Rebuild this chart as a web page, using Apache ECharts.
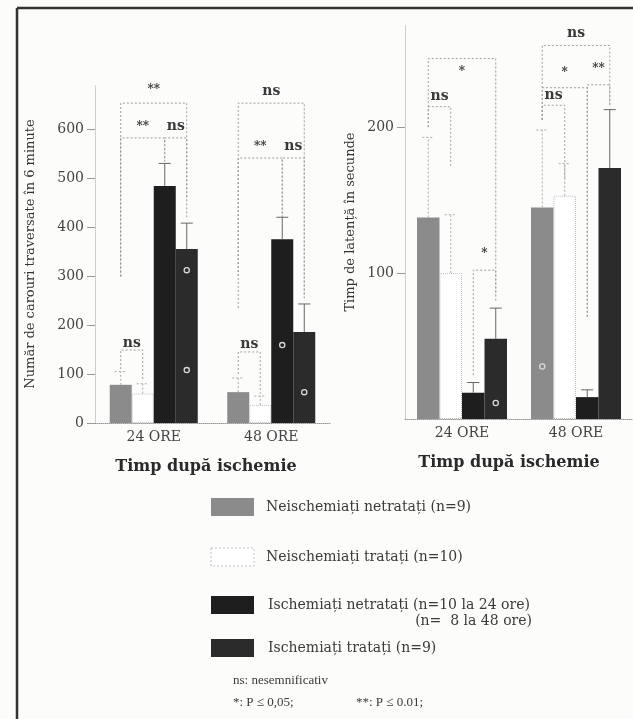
<!DOCTYPE html>
<html><head><meta charset="utf-8">
<script src="https://cdn.jsdelivr.net/npm/echarts@6/dist/echarts.min.js"></script>
<style>html,body{margin:0;padding:0;background:#fcfcfb}#c{width:633px;height:719px}</style>
</head><body><div id="c"></div>
<script>
const categories = ['24 ORE', '48 ORE'];
const groupNames = ['Neischemiați netratați (n=9)', 'Neischemiați tratați (n=10)', 'Ischemiați netratați (n=10 la 24 ore)', 'Ischemiați tratați (n=9)'];
const groupNote = '(n=  8 la 48 ore)';
const xTitle = 'Timp după ischemie';
const leftTitle = 'Număr de carouri traversate în 6 minute';
const rightTitle = 'Timp de latență în secunde';

// Left chart: values and top of error bars
const leftGrey = [78, 63];
const leftWhite = [60, 37];
const leftBlack = [484, 375];
const leftTreated = [355, 186];
const leftGreyErr = [105, 92];
const leftWhiteErr = [80, 55];
const leftBlackErr = [530, 420];
const leftTreatedErr = [408, 243];
const leftTicks = [0, 100, 200, 300, 400, 500, 600];

// Right chart
const rightGrey = [138, 145];
const rightWhite = [100, 153];
const rightBlack = [18, 15];
const rightTreated = [55, 172];
const rightGreyErr = [193, 198];
const rightWhiteErr = [140, 175];
const rightBlackErr = [25, 20];
const rightTreatedErr = [76, 212];
const rightTicks = [100, 200];

// brackets: [category, fromBar, toBar, level, leftLegEnd, rightLegEnd, labelValue, text]
const leftBrackets = [
  [0, 0, 3, 653, 298, 461, 680, '**'],
  [0, 0, 2, 582, 300, 531, 605, '**'],
  [0, 2, 3, 582, 540, 420, 605, 'ns'],
  [0, 0, 1, 149, 110, 85, 163, 'ns'],
  [1, 0, 3, 653, 235, 250, 678, 'ns'],
  [1, 0, 2, 541, 300, 420, 564, '**'],
  [1, 2, 3, 541, 420, 260, 564, 'ns'],
  [1, 0, 1, 145, 100, 60, 160, 'ns']
];
const rightBrackets = [
  [0, 0, 3, 247, 200, 85, 238, '*'],
  [0, 0, 1, 214, 200, 173, 221, 'ns'],
  [0, 2, 3, 102, 30, 80, 113, '*'],
  [1, 0, 3, 256, 205, 215, 264, 'ns'],
  [1, 0, 2, 227, 205, 70, 237, '*'],
  [1, 2, 3, 229, 70, 215, 240, '**'],
  [1, 0, 1, 215, 205, 165, 222, 'ns']
];
// individual markers: [category, bar, value]
const leftDots = [[0, 3, 312], [1, 2, 159], [0, 3, 108], [1, 3, 63]];
const rightDots = [[0, 3, 11], [1, 0, 36]];

const SERIF = '"DejaVu Serif", "Liberation Serif", serif';
const barColors = ['#8b8b8b', '#ffffff', '#1e1e1e', '#2b2b2b'];
const BW = [22, 22.5];

function barSeries(vals, idx, g) {
  const white = idx === 1;
  return {
    type: 'bar', name: groupNames[idx], xAxisIndex: g, yAxisIndex: g,
    data: vals, barWidth: BW[g], barGap: '0%',
    itemStyle: white ? {color: '#ffffff', borderColor: '#bdbdbd', borderWidth: 1, borderType: 'dotted'}
                     : {color: barColors[idx]},
    silent: true
  };
}
function errData(lists, vals) {
  const out = [];
  for (let j = 0; j < 4; j++) for (let i = 0; i < categories.length; i++) out.push([i, j, vals[j][i], lists[j][i]]);
  return out;
}
function errSeries(g, data) {
  return {
    type: 'custom', xAxisIndex: g, yAxisIndex: g, silent: true, z: 3,
    encode: {x: 0, y: 3},
    data: data,
    renderItem: function (params, api) {
      const cat = api.value(0), j = api.value(1);
      const p0 = api.coord([cat, api.value(2)]);
      const p1 = api.coord([cat, api.value(3)]);
      const x = p0[0] + (j - 1.5) * BW[g];
      const dark = j >= 2;
      const st = {stroke: dark ? '#666' : '#aaa', lineWidth: 1, lineDash: dark ? null : [2, 2]};
      return {type: 'group', children: [
        {type: 'line', shape: {x1: x, y1: p0[1], x2: x, y2: p1[1]}, style: st},
        {type: 'line', shape: {x1: x - 6, y1: p1[1], x2: x + 6, y2: p1[1]}, style: st}
      ]};
    }
  };
}
function bracketSeries(g, list) {
  return {
    type: 'custom', xAxisIndex: g, yAxisIndex: g, silent: true, z: 4,
    encode: {x: 0, y: 3},
    data: list.map(b => b.slice(0, 7)),
    renderItem: function (params, api) {
      const b = list[params.dataIndex];
      const c = api.coord([b[0], b[3]]);
      const xL = c[0] + (b[1] - 1.5) * BW[g], xR = c[0] + (b[2] - 1.5) * BW[g];
      const yL = api.coord([b[0], b[4]])[1], yR = api.coord([b[0], b[5]])[1];
      const yT = api.coord([b[0], b[6]])[1];
      return {type: 'group', children: [
        {type: 'polyline', shape: {points: [[xL, yL], [xL, c[1]], [xR, c[1]], [xR, yR]]},
         style: {stroke: '#9d9d9d', lineWidth: 1, lineDash: [2, 2], fill: null}},
        {type: 'text', x: (xL + xR) / 2, y: yT,
         style: {text: b[7], align: 'center', verticalAlign: 'middle',
                 font: 'bold ' + (b[7] === 'ns' ? 14 : 12) + 'px ' + SERIF, fill: '#3a3a3a'}}
      ]};
    }
  };
}
function dotSeries(g, list) {
  return {
    type: 'custom', xAxisIndex: g, yAxisIndex: g, silent: true, z: 5,
    encode: {x: 0, y: 2},
    data: list,
    renderItem: function (params, api) {
      const p = api.coord([api.value(0), api.value(2)]);
      const x = p[0] + (api.value(1) - 1.5) * BW[g];
      return {type: 'circle', shape: {cx: x, cy: p[1], r: 2.6},
              style: {fill: null, stroke: '#d8d8d8', lineWidth: 1.3}};
    }
  };
}

const axisLabelStyle = {fontFamily: SERIF, fontSize: 14, color: '#444'};
function xAxis(g, pad) {
  return {
    type: 'category', gridIndex: g, data: categories,
    axisLine: {lineStyle: {color: '#999', type: 'dotted', width: 1}},
    axisTick: {show: false},
    axisLabel: Object.assign({margin: 7}, axisLabelStyle),
    name: xTitle, nameLocation: 'middle', nameGap: 36,
    nameTextStyle: {fontFamily: SERIF, fontSize: 16, fontWeight: 'bold', color: '#2a2a2a', padding: pad}
  };
}
function yAxis(g, max, ticks, title, gap) {
  return {
    type: 'value', gridIndex: g, min: 0, max: max, interval: 100,
    splitLine: {show: false},
    axisLine: {show: true, lineStyle: {color: '#c4c4c4', type: 'dotted'}},
    axisTick: {show: true, length: 8, customValues: ticks, lineStyle: {color: '#999'}},
    axisLabel: Object.assign({margin: 11, customValues: ticks}, axisLabelStyle),
    name: title, nameLocation: 'middle', nameGap: gap,
    nameTextStyle: {fontFamily: SERIF, fontSize: 13, color: '#333'}
  };
}

const legendY = [507, 557, 605, 648];
const LFONT = '14px ' + SERIF;
const NFONT = '13px "Liberation Serif", serif';
const graphic = [
  {type: 'line', shape: {x1: 17, y1: 8, x2: 633, y2: 8}, style: {stroke: '#333', lineWidth: 2.5}},
  {type: 'line', shape: {x1: 17, y1: 8, x2: 17, y2: 719}, style: {stroke: '#333', lineWidth: 2.5}}
];
groupNames.forEach((n, i) => {
  const white = i === 1;
  graphic.push({type: 'rect', shape: {x: 211, y: legendY[i] - 9, width: 43, height: 18},
    style: white ? {fill: '#fff', stroke: '#bdbdbd', lineWidth: 1, lineDash: [2, 2]} : {fill: barColors[i]}});
  graphic.push({type: 'text', x: 266 + (i >= 2 ? 2 : 0), y: legendY[i],
    style: {text: n, font: LFONT, fill: '#3a3a3a', verticalAlign: 'middle'}});
});
graphic.push({type: 'text', x: 532, y: 621, style: {text: groupNote, font: LFONT, fill: '#3a3a3a', align: 'right', verticalAlign: 'middle'}});
graphic.push({type: 'text', x: 233, y: 681, style: {text: 'ns: nesemnificativ', font: NFONT, fill: '#3a3a3a', verticalAlign: 'middle'}});
graphic.push({type: 'text', x: 233, y: 703, style: {text: '*: P ≤ 0,05;', font: NFONT, fill: '#3a3a3a', verticalAlign: 'middle'}});
graphic.push({type: 'text', x: 356, y: 703, style: {text: '**: P ≤ 0.01;', font: NFONT, fill: '#3a3a3a', verticalAlign: 'middle'}});

const chart = echarts.init(document.getElementById('c'), null, {renderer: 'canvas'});
chart.setOption({
  animation: false,
  backgroundColor: '#fcfcfb',
  grid: [
    {left: 95, top: 85, width: 235, height: 338},
    {left: 405, top: 25, width: 240, height: 394}
  ],
  xAxis: [xAxis(0, [0, 13, 0, 0]), xAxis(1, [0, 20, 0, 0])],
  yAxis: [yAxis(0, 690, leftTicks, leftTitle, 58), yAxis(1, 270, rightTicks, rightTitle, 48)],
  series: [
    barSeries(leftGrey, 0, 0), barSeries(leftWhite, 1, 0), barSeries(leftBlack, 2, 0), barSeries(leftTreated, 3, 0),
    barSeries(rightGrey, 0, 1), barSeries(rightWhite, 1, 1), barSeries(rightBlack, 2, 1), barSeries(rightTreated, 3, 1),
    errSeries(0, errData([leftGreyErr, leftWhiteErr, leftBlackErr, leftTreatedErr], [leftGrey, leftWhite, leftBlack, leftTreated])),
    errSeries(1, errData([rightGreyErr, rightWhiteErr, rightBlackErr, rightTreatedErr], [rightGrey, rightWhite, rightBlack, rightTreated])),
    bracketSeries(0, leftBrackets), bracketSeries(1, rightBrackets),
    dotSeries(0, leftDots), dotSeries(1, rightDots)
  ],
  graphic: graphic
});
</script></body></html>
